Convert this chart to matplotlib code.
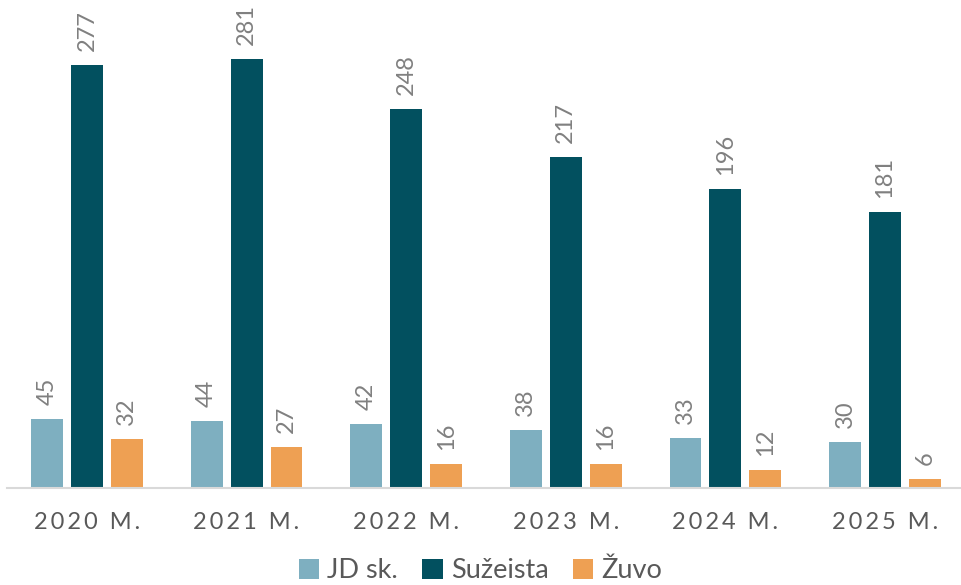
import numpy as np
import matplotlib.pyplot as plt

years = ['2020 M.', '2021 M.', '2022 M.', '2023 M.', '2024 M.', '2025 M.']
series_names = ['JD sk.', 'Sužeista', 'Žuvo']
jd_sk = [45, 44, 42, 38, 33, 30]
suzeista = [277, 281, 248, 217, 196, 181]
zuvo = [32, 27, 16, 16, 12, 6]
colors = ['#7EAFC0', '#02505F', '#EEA053']

plt.rcParams['font.family'] = ['Lato', 'DejaVu Sans']

W, H = 961, 585
fig = plt.figure(figsize=(W / 100, H / 100), dpi=100)
base = 488
ax = fig.add_axes([7.2 / W, (H - base) / H, 957.6 / W, base / H])

x = np.arange(len(years))
width = 0.2
offsets = [-0.25, 0, 0.25]
handles = []
for vals, off, col, name in zip([jd_sk, suzeista, zuvo], offsets, colors, series_names):
    bars = ax.bar(x + off, vals, width, color=col, label=name)
    handles.append(bars)
    for b, v in zip(bars, vals):
        ax.annotate(str(v), (b.get_x() + b.get_width() / 2, v),
                    xytext=(0, 10), textcoords='offset points',
                    rotation=90, ha='center', va='bottom',
                    fontsize=17, color='#808080')

ax.set_xlim(-0.5, len(years) - 0.5)
ax.set_ylim(0, base / 1.527)

for s in ['top', 'left', 'right']:
    ax.spines[s].set_visible(False)
ax.spines['bottom'].set_color('#D9D9D9')
ax.spines['bottom'].set_linewidth(1.5)
ax.set_yticks([])
ax.set_xticks(x)
spaced = ['\u2009'.join(list(y)) for y in years]
ax.set_xticklabels(spaced, fontsize=17, color='#595959')
ax.tick_params(axis='x', length=0, pad=17)

fig.legend(handles=handles, labels=series_names, loc='center',
           bbox_to_anchor=(0.5, 1 - 571 / H), ncol=3, frameon=False,
           fontsize=19.5, labelcolor='#595959', handlelength=0.75,
           handleheight=0.75, handletextpad=0.3, columnspacing=0.9)

fig.savefig('out.png', dpi=100)
